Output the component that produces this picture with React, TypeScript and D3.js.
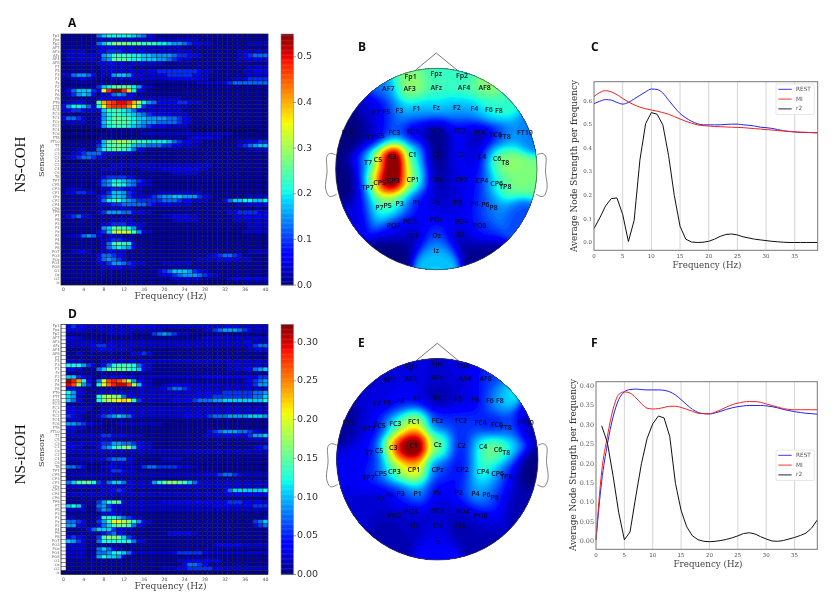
import React from "react";
import * as d3 from "d3";

const sensors = ["Fp1","Fpz","Fp2","AF7","AF3","AFz","AF4","AF8","F7","F5","F3","F1","Fz","F2","F4","F6","F8","FT9","FT7","FC5","FC3","FC1","FCz","FC2","FC4","FC6","FT8","FT10","T7","C5","C3","C1","Cz","C2","C4","C6","T8","TP7","CP5","CP3","CP1","CPz","CP2","CP4","CP6","TP8","P7","P5","P3","P1","Pz","P2","P4","P6","P8","PO7","PO3","POz","PO4","PO8","O1","Oz","O2","Iz"];
// Electrode places on the scalp (offset from head centre, in head radii x 302)
const sensorX = [-77,0,77,-144,-80,0,83,145,-181,-150,-111,-59,0,62,114,158,188,-266,-204,-173,-126,-70,0,71,130,179,206,266,-205,-175,-132,-71,1,73,137,182,207,-206,-170,-129,-70,1,75,137,181,207,-171,-146,-110,-59,0,64,114,147,172,-128,-79,0,77,130,-68,1,69,0];
const sensorY = [-277,-285,-279,-239,-240,-243,-242,-242,-167,-170,-175,-181,-184,-182,-179,-176,-174,-109,-92,-99,-107,-112,-115,-114,-109,-102,-95,-109,-18,-26,-35,-41,-43,-41,-36,-29,-19,56,43,37,33,32,32,37,44,53,118,110,104,103,101,101,104,108,116,171,159,154,159,170,201,201,199,247];
const strengthB = [.5,.42,.4,.25,.6,.45,.45,.55,.05,.15,.33,.3,.33,.3,.28,.4,.42,0,0,.1,.25,.06,0,.12,.03,.05,.35,.25,0,.85,1.3,.36,0,.12,.03,.55,.55,.05,1.1,1.2,.46,.03,.1,.13,.35,.55,.35,.55,.33,.12,.07,.07,.12,.2,.3,.1,.12,.12,.12,.17,.03,.2,.03,.33];
const strengthE = [.1,.08,.1,.08,.1,.08,.08,.18,.08,.1,.13,.1,.02,.08,.1,.18,.4,.03,.08,.13,.45,.65,.18,.18,.18,.06,.28,.05,.1,.15,1.0,1.15,.5,.13,.4,.72,.2,.13,.2,.55,.72,.2,.12,.45,.38,.02,.06,.1,.18,.3,.1,.13,.3,.35,.08,.05,.08,.06,.08,.08,.06,.1,.03,.1];
// Unlabelled rim anchors of the two maps
const rimX = [-130,130,0,-270,270,240,-230];
const rimY = [255,255,295,50,30,130,130];
const rimB = [0,.02,.33,0,.5,.2,.08];
const rimE = [.05,.05,.15,.1,0,.05,.08];

const heatA = [
"1111111578 8888765321 1111111111 1111111111 1",
"1111111222 2222222222 2222222111 1111111111 1",
"1111111579 bbbaaa9998 8766543322 1111111222 2",
"1111112233 3322222222 2222111111 1111111111 1",
"1222211334 4433333222 2222221111 1111122222 2",
"1222222267 9999887766 6654433211 1111123455 5",
"1222222256 aaa9887776 6543221111 1111122333 3",
"1111111223 3222222222 1111111111 1111111111 1",
"1111111122 2222111111 1111111111 1111111222 2",
"1111111122 2222222334 4444444322 1111112233 3",
"2256653122 6776322223 3444443221 1111111222 2",
"1122321111 2222222222 2333333221 1111223444 4",
"1111111111 1111111111 1111111222 2234555555 5",
"1111111478 aaaa863211 1111111111 1111111111 1",
"13577743ej mmjf832111 1111111111 1111111111 1",
"1246763123 5653211111 1111111111 1111111111 1",
"1111111233 3333222222 2222111111 1111111111 1",
"1223211agi jkkjgc8653 3334432211 1111111111 1",
"36887528ei jjjhe94322 2222211111 1111111111 1",
"2344322379 9987532222 2222111111 1111111111 1",
"1111111168 9988765433 3322211111 1111111111 1",
"3554211268 aaa9877666 6554321111 1111111111 1",
"1222211279 aaa9876665 5554321111 1111111111 1",
"1111111268 9998765433 3222211111 1111111111 1",
"0000000001 1111111111 1111110000 0000000001 1",
"1111111111 1111112222 2222222222 2222111111 1",
"0000000111 1111111111 1111123333 2211111111 1",
"111111137a bccba99888 8754332211 1111122334 4",
"1111111479 aaa9766555 4433222111 1111134567 7",
"1112211589 aa98532111 1111111111 1111111222 2",
"1123455532 2222111111 1111111111 1111111111 1",
"1234554321 1111111111 1111111111 1111111111 1",
"0000011111 1111111111 1111111111 1111111111 1",
"1111111111 2222222222 2222222222 1111111111 1",
"1111111122 2211112222 3333333221 1111111111 1",
"1111111111 1111111111 1122222111 1111111111 1",
"1111111134 4443211111 1111111111 1111111111 1",
"1111111256 8876543211 1111111111 1111111111 1",
"1111111256 9986532211 1111111111 1111111111 1",
"1222111123 4433221111 1111111111 1111111111 1",
"1334432124 7764321112 2222222211 1111111111 1",
"1111111345 7764322345 6677666432 1111111222 2",
"1111111258 9976544444 5554332221 1135778877 8",
"1111111223 4455555432 3322221111 1111122333 3",
"1111111111 2222111111 1111111111 1111111111 1",
"1111111246 6655332211 1111111111 1113344443 3",
"1345321111 1111111111 2233322111 1111223333 3",
"1111111111 2222111111 1122222111 1111222222 2",
"1111111123 4443322111 1111111111 1111111222 2",
"1111111167 aa98631111 1111111111 1111111222 2",
"1111111347 cddc963211 1111111111 1111112222 2",
"1223565312 2211111111 1111111111 1111111111 1",
"1111111123 4432111111 1111111111 1111111111 1",
"1111111125 9a98311111 1111111111 1111111111 1",
"1111111125 7876311111 1111111111 1111111111 1",
"1123321123 3221111111 1111111111 1111111222 2",
"1111111355 4321111111 1111111112 3455431111 1",
"1111111356 5421111111 1111111222 2333322211 1",
"1111111224 6654322111 2222221111 1111111111 1",
"1111111122 3322211111 1111111111 1111111111 1",
"1111111111 1111111113 4577764321 1111111111 1",
"1111111111 1111111112 3345666543 2111111111 1",
"1111111111 1111111111 1122222211 1112333333 3",
"0000000000 0001111111 1111111000 0000001111 1",
];

const heatD = [
".343322222 2222333332 2222222222 2233322222 2",
".333221222 2222222222 1111111122 4566654322 2",
".111111112 2222111145 6542211111 1111111111 1",
".332111111 1111111111 1111111122 2222222222 2",
".222222212 2222222222 2222222222 2222223322 2",
".222223443 3222222222 2222222222 2222222345 5",
".111112333 2222111111 1111111111 1111111233 3",
".112111111 1111334311 1111111111 1111111111 1",
".111111111 1111111111 1111111111 1111111111 1",
".222111122 2222222222 2222222222 2222222222 2",
".888642135 8999853211 1111111111 1112222222 2",
".33211157a aaa9873211 1111111111 1112223356 7",
".111111111 1111111111 1111111111 1111111111 1",
".774321122 3333222222 2222222233 3333333334 4",
".ljg8315di jigc632211 1111111111 1111112345 6",
".kic6418eh jkkic73211 2233322222 2222222346 6",
".332111111 1111122222 3455432222 2222222222 2",
".863211222 2222222222 2222222333 3344444455 6",
".7621118bc ba53222222 2222223333 4444444455 7",
".7531118bc defe842222 2233334555 6677777777 8",
".111111111 1111111111 1111111111 1111111111 1",
".332221122 2222222222 2222222222 2222222222 2",
".332211122 2222222222 2222222222 2222222222 2",
".432111345 6765322222 2222333334 5556666777 6",
".222111111 1111111111 1111111111 1111111111 1",
".665432211 1222222222 1111111111 1111111111 1",
".332211111 1111111111 1111111111 1111111111 1",
".221111111 1111111111 1111111113 4566655432 2",
".222222344 3332221111 1111111122 3333333466 7",
".111111122 1111111111 1111111111 1111111222 2",
".322222344 6655432211 1111111111 1111111111 1",
".332111356 89bb732211 1111111111 1111111123 4",
".222222222 2222222222 2222222222 2222222222 2",
".111111111 1111111111 1111111111 1111111111 1",
".222222234 5553211111 2222111111 1111111111 1",
".111111111 2222111111 1111111111 1111111111 1",
".554311123 3222224554 4443222111 1111111111 1",
".111111112 4432211111 1111111111 1111111111 1",
".222222222 2222222222 2222222233 3455432222 2",
".111111111 1111111111 1111111111 1111111111 1",
".579aa8425 7753222268 abba975322 2222222222 2",
".222222222 2222222222 2222222222 2222222222 2",
".111111122 3432111111 1111111111 1135777777 8",
".222222222 2222222222 2222222222 2223333333 3",
".111111111 1111111111 1111111111 1111111111 1",
".111111468 a932222222 3333333333 3334443333 3",
".787311564 3222222222 2222222222 3333333344 4",
".222211465 3222222222 2222222222 2222222222 2",
".111111123 3211111111 1111111111 1111111111 1",
".221111388 8754321111 1111111111 1111111111 2",
".554311469 eecb863211 1111111111 1111111145 7",
".663211357 9aa9532111 1111111111 1111111134 5",
".111135777 4322111111 1111111111 1111111111 1",
".111111134 5321111111 1333332111 1111111111 1",
".34321149b ba74211111 1111111111 1111111111 1",
".764211588 8888532111 1111111111 1111111111 1",
".222211111 1111111111 1111111111 2333332222 2",
".222211575 3211111111 1111111111 1111111111 1",
".222211556 8875322222 2234444432 2222222222 2",
".222212687 7631111111 1111111111 1111111111 1",
".111111111 1111111111 1112233333 3211111111 1",
".111111111 1111111111 1111355431 1111111111 1",
".111111111 1111111111 2223344444 3322222222 2",
"0000000000 0000000000 0000000000 0000000000 0",
];

const freqCols = d3.range(41);
const heatTicks = [0,4,8,12,16,20,24,28,32,36,40];
const lineFreqs = d3.range(40);
const lineTicks = [0,5,10,15,20,25,30,35];

const restC = [.59,.6,.607,.605,.595,.588,.595,.61,.625,.64,.652,.65,.635,.605,.575,.548,.53,.515,.505,.5,.5,.5,.5,.502,.503,.503,.5,.498,.495,.49,.488,.485,.48,.475,.472,.47,.468,.468,.467,.466];
const miC = [.62,.637,.645,.64,.628,.612,.597,.585,.575,.568,.563,.558,.552,.545,.535,.525,.515,.507,.5,.497,.495,.493,.492,.491,.49,.489,.488,.486,.484,.482,.48,.478,.476,.474,.472,.47,.469,.468,.467,.466];
const r2C = [.06,.105,.155,.187,.19,.12,.005,.095,.35,.505,.552,.545,.5,.37,.2,.07,.015,.003,.001,.002,.006,.015,.027,.035,.037,.033,.025,.02,.015,.012,.009,.006,.004,.002,.001,.001,.001,.001,.001,.001];
const restF = [.005,.155,.25,.32,.365,.385,.391,.392,.391,.39,.39,.39,.389,.385,.377,.365,.352,.34,.332,.329,.328,.331,.335,.34,.344,.347,.349,.35,.35,.35,.349,.347,.344,.34,.337,.334,.332,.33,.329,.3275];
const miF = [.005,.18,.27,.34,.378,.385,.382,.37,.355,.343,.341,.342,.345,.348,.348,.345,.34,.335,.33,.329,.329,.333,.339,.346,.352,.356,.359,.36,.36,.358,.354,.35,.346,.342,.34,.339,.339,.339,.339,.339];
const r2F = [NaN,.298,.255,.17,.075,.005,.025,.115,.2,.265,.303,.323,.318,.27,.15,.08,.038,.015,.005,.001,0,.001,.003,.006,.01,.015,.021,.023,.02,.013,.007,.002,.001,.003,.007,.011,.016,.022,.035,.056];

const jetR = d3.scaleLinear([0,.35,.66,.89,1],[0,0,1,1,.5]).clamp(true);
const jetG = d3.scaleLinear([0,.125,.375,.64,.91,1],[0,0,1,1,0,0]).clamp(true);
const jetB = d3.scaleLinear([0,.11,.34,.65,1],[.5,1,1,0,0]).clamp(true);
const jet = (t: number) => d3.rgb(255*jetR(t),255*jetG(t),255*jetB(t)).formatRgb();

const SERIF = "'DejaVu Serif', serif";
const SANS = "'DejaVu Sans', sans-serif";

function parseRow(s: string, unit: number) {
  return s.replace(/ /g,"").split("").map(c => {
    if (c === ".") return NaN;
    const level = parseInt(c,36);
    return (level > 0 && level < 5 ? level - .3 : level) * unit;
  });
}

function Heat({rows,unit,vmax,top,bottom,ticks,fmt,label}:{rows:string[],unit:number,vmax:number,top:number,bottom:number,ticks:number[],fmt:(v:number)=>string,label:string}) {
  const x = d3.scaleBand<number>().domain(freqCols).range([61,268]);
  const y = d3.scaleBand<string>().domain(sensors).range([top,bottom]);
  const cy = d3.scaleLinear([0,vmax],[bottom,top]);
  const bar = d3.range(0,vmax,vmax/200);
  const mid = (top+bottom)/2;
  return <g>
    {rows.map((r,i)=>parseRow(r,unit).map((v,j)=>
      <rect key={i+"-"+j} x={x(j)} y={y(sensors[i])} width={x.bandwidth()} height={y.bandwidth()}
        fill={isNaN(v)?"#ffffff":jet(v/vmax)} stroke="#000" strokeWidth={0.42} strokeOpacity={0.75}/>))}
    <rect x={61} y={top} width={207} height={bottom-top} fill="none" stroke="#222" strokeWidth={0.5}/>
    {sensors.map(s=><text key={s} x={59.5} y={(y(s)||0)+y.bandwidth()/2} fontSize={3.7} fill="#666" textAnchor="end" dominantBaseline="middle" fontFamily={SANS}>{s}</text>)}
    {heatTicks.map(t=><text key={t} x={(x(t)||0)+x.bandwidth()/2} y={bottom+6} fontSize={4.6} fill="#555" textAnchor="middle" fontFamily={SANS}>{t}</text>)}
    <text x={170.5} y={bottom+14} fontSize={9} fill="#444" textAnchor="middle" fontFamily={SERIF} textLength={72} lengthAdjust="spacingAndGlyphs">Frequency (Hz)</text>
    <text transform={`translate(44,${mid+1}) rotate(-90)`} fontSize={8.2} fill="#333" textAnchor="middle" fontFamily={SERIF}>Sensors</text>
    <text transform={`translate(25,${mid+5}) rotate(-90)`} fontSize={15} fill="#111" textAnchor="middle" fontFamily="'Liberation Serif', serif">{label}</text>
    <g>
      {bar.map(v=><rect key={v} x={281} y={cy(v+vmax/200)} width={12.5} height={(bottom-top)/200+0.4} fill={jet(v/vmax)}/>)}
      <rect x={281} y={top} width={12.5} height={bottom-top} fill="none" stroke="#888" strokeWidth={0.6}/>
      {ticks.map(t=><g key={t}>
        <line x1={293.5} x2={296} y1={cy(t)} y2={cy(t)} stroke="#555" strokeWidth={0.6}/>
        <text x={297} y={cy(t)} fontSize={9.5} fill="#333" dominantBaseline="middle" fontFamily={SANS}>{fmt(t)}</text>
      </g>)}
    </g>
  </g>;
}

function Topo({cx,cy,values,rim,sigma}:{cx:number,cy:number,values:number[],rim:number[],sigma:number}) {
  const R = 100.7, n = 150;
  const pts = [...sensors.map((_,i)=>[sensorX[i]/302,sensorY[i]/302,values[i]]), ...rim.map((v,i)=>[rimX[i]/302,rimY[i]/302,v])];
  const grid: number[] = [];
  for (let j=0;j<n;j++) for (let i=0;i<n;i++) {
    const u = (i+.5)/n*2.1-1.05, v = (j+.5)/n*2.1-1.05;
    let a=0,b=0;
    for (const p of pts) { const d=(u-p[0])**2+(v-p[1])**2; const w=Math.exp(-d/(2*sigma*sigma)); a+=w*p[2]; b+=w; }
    grid.push(a/b);
  }
  const th = d3.range(0,1,1/70);
  const contours = d3.contours().size([n,n]).smooth(true).thresholds(th)(grid);
  const path = d3.geoPath();
  const scale = 2.1*R/n;
  const ear = d3.line().curve(d3.curveCatmullRom);
  const earPts = (s:number):[number,number][] => [[s*1.0,-.14],[s*1.05,-.155],[s*1.085,-.13],[s*1.085,.03],[s*1.1,.19],[s*1.065,.27],[s*1.03,.27],[s*.99,.25]].map(([a,b])=>[cx+a*R,cy+b*R] as [number,number]);
  const id = "clip"+Math.round(cy);
  return <g>
    <clipPath id={id}><circle cx={cx} cy={cy} r={R}/></clipPath>
    <g clipPath={`url(#${id})`}>
      <rect x={cx-R} y={cy-R} width={2*R} height={2*R} fill={jet(0)}/>
      <g transform={`translate(${cx-1.05*R},${cy-1.05*R}) scale(${scale})`}>
        {contours.map(c=><path key={c.value} d={path(c as any)||""} fill={jet(c.value)}/>)}
      </g>
    </g>
    <circle cx={cx} cy={cy} r={R} fill="none" stroke="#444" strokeWidth={0.7}/>
    <path d={d3.line()([[cx-20.7,cy-99],[cx,cy-116],[cx+20.7,cy-99]])||""} fill="none" stroke="#555" strokeWidth={0.8}/>
    <path d={ear(earPts(-1))||""} fill="none" stroke="#666" strokeWidth={0.8}/>
    <path d={ear(earPts(1))||""} fill="none" stroke="#666" strokeWidth={0.8}/>
    {sensors.map((s,i)=><text key={s} x={cx+sensorX[i]/3} y={cy+sensorY[i]/3} fontSize={7} fontWeight={600} fill="#0a0a2a" textAnchor="middle" dominantBaseline="middle" fontFamily="'Open Sans', sans-serif">{s}</text>)}
  </g>;
}

function Lines({left,right,top,bottom,yTicks,yDom,yFmt,tickSize,rest,mi,r2,xMid,xLab,legendTop,yLabX,yLabMid}:{left:number,right:number,top:number,bottom:number,yTicks:number[],yDom:[number,number],yFmt:(v:number)=>string,tickSize:number,rest:number[],mi:number[],r2:number[],xMid:number,xLab:number,legendTop:number,yLabX:number,yLabMid:number}) {
  const x = d3.scaleLinear([0,39],[left,right]);
  const y = d3.scaleLinear(yDom,[bottom,top]);
  const smooth = d3.line<number>().defined(v=>!isNaN(v)).x((_,i)=>x(lineFreqs[i])).y(v=>y(v)).curve(d3.curveMonotoneX);
  const poly = d3.line<number>().defined(v=>!isNaN(v)).x((_,i)=>x(lineFreqs[i])).y(v=>y(v));
  const legend: [string,string][] = [["REST","#2222ee"],["MI","#ee2222"],["r2","#111111"]];
  return <g>
    {lineTicks.slice(1).map(t=><line key={t} x1={x(t)} x2={x(t)} y1={top} y2={bottom} stroke="#d4d4d4" strokeWidth={1}/>)}
    <path d={smooth(rest)||""} fill="none" stroke="#2222ee" strokeWidth={1}/>
    <path d={smooth(mi)||""} fill="none" stroke="#ee2222" strokeWidth={1}/>
    <path d={poly(r2)||""} fill="none" stroke="#111" strokeWidth={1}/>
    <rect x={left} y={top} width={right-left} height={bottom-top} fill="none" stroke="#777" strokeWidth={1}/>
    {lineTicks.map(t=><text key={t} x={x(t)} y={bottom+8} fontSize={5.5} fill="#555" textAnchor="middle" fontFamily={SANS}>{t}</text>)}
    {yTicks.map(t=><text key={t} x={left-2} y={y(t)} fontSize={tickSize} fill="#555" textAnchor="end" dominantBaseline="middle" fontFamily={SERIF}>{yFmt(t)}</text>)}
    <text x={xMid} y={xLab} fontSize={9} fill="#444" textAnchor="middle" fontFamily={SERIF} textLength={69} lengthAdjust="spacingAndGlyphs">Frequency (Hz)</text>
    <text transform={`translate(${yLabX},${yLabMid}) rotate(-90)`} fontSize={8.6} fill="#333" textAnchor="middle" fontFamily={SERIF} textLength={172} lengthAdjust="spacingAndGlyphs">Average Node Strength per frequency</text>
    <rect x={776} y={legendTop} width={38.3} height={30.5} rx={1} fill="#fff" fillOpacity={0.85} stroke="#ddd" strokeWidth={0.7}/>
    {legend.map(([n,c],i)=><g key={n}>
      <line x1={778.3} x2={791.7} y1={legendTop+5.3+i*9.8} y2={legendTop+5.3+i*9.8} stroke={c} strokeWidth={0.9}/>
      <text x={796} y={legendTop+5.3+i*9.8} fontSize={5.8} fill="#555" dominantBaseline="middle" fontFamily={SANS}>{n}</text>
    </g>)}
  </g>;
}

const panel = (t:string,x:number,y:number) => <text key={t} x={x} y={y} fontSize={12} fontWeight={700} fill="#111" dominantBaseline="middle" fontFamily="'Open Sans', sans-serif">{t}</text>;

export default function App() {
  return <svg width={831} height={612} viewBox="0 0 831 612" style={{position:"absolute",left:0,top:0,background:"#fff"}}>
    <defs><filter id="soft" x="0" y="0" width="831" height="612" filterUnits="userSpaceOnUse"><feGaussianBlur stdDeviation={0.4}/></filter></defs>
    <g filter="url(#soft)">
    {panel("A",68,24)}{panel("B",358,48)}{panel("C",591,48)}{panel("D",68,315)}{panel("E",358,344)}{panel("F",591,344)}
    <Heat rows={heatA} unit={.025} vmax={.55} top={34} bottom={285} ticks={[0,.1,.2,.3,.4,.5]} fmt={d3.format(".1f")} label="NS-COH"/>
    <Heat rows={heatD} unit={.015} vmax={.323} top={324.3} bottom={574.5} ticks={[0,.05,.1,.15,.2,.25,.3]} fmt={d3.format(".2f")} label="NS-iCOH"/>
    <Topo cx={436.3} cy={169} values={strengthB} rim={rimB} sigma={.1}/>
    <Topo cx={437.3} cy={459.3} values={strengthE} rim={rimE} sigma={.1}/>
    <Lines left={594} right={817.7} top={81.7} bottom={250.3} yDom={[-.0322,.683]} yTicks={[0,.1,.2,.3,.4,.5,.6]} yFmt={d3.format(".1f")} tickSize={5.5} rest={restC} mi={miC} r2={r2C} xMid={707} xLab={268} legendTop={84} yLabX={577} yLabMid={166}/>
    <Lines left={596} right={817.3} top={381.7} bottom={549.3} yDom={[-.0195,.4111]} yTicks={[0,.05,.1,.15,.2,.25,.3,.35,.4]} yFmt={d3.format(".2f")} tickSize={6.4} rest={restF} mi={miF} r2={r2F} xMid={708} xLab={567} legendTop={450} yLabX={576} yLabMid={465}/>
    </g>
  </svg>;
}
